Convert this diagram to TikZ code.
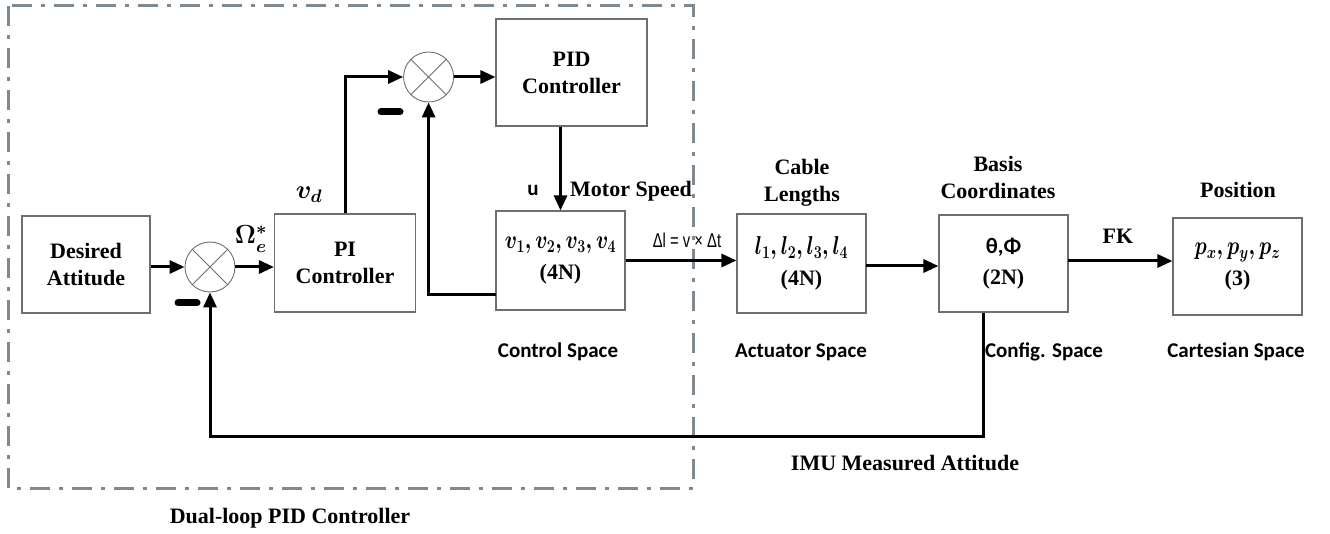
\documentclass[tikz,border=0pt]{standalone}
\usepackage{graphicx}
\usepackage{fontspec}
\setmainfont{Liberation Serif}
\newfontfamily\carl{Carlito}
\newfontfamily\libsans{Liberation Sans}
\usetikzlibrary{arrows.meta}
\definecolor{framegray}{RGB}{125,138,148}
\definecolor{boxgray}{RGB}{110,110,110}
\newcommand{\mybigmath}[1]{\scalebox{1.05}{\boldmath$#1$}}
\newcommand{\myboxmath}[1]{\scalebox{0.82}[1.04]{\boldmath$#1$}}
\begin{document}
\begin{tikzpicture}[x=1pt,y=-1pt,
  box/.style={draw=boxgray,line width=1.1pt,inner sep=0pt,align=center,
    font=\bfseries\fontsize{22}{27}\selectfont},
  mbox/.style={draw=boxgray,line width=1.1pt,inner sep=0pt,align=center,
    font=\bfseries\fontsize{22}{31}\selectfont},
  sumj/.style={circle,draw=boxgray,line width=0.9pt,minimum size=50pt,inner sep=0pt},
  crossl/.style={draw=boxgray,line width=0.9pt},
  arr/.style={line width=3pt,-{Triangle[length=15pt,width=13pt]}},
  lbl/.style={font=\bfseries\fontsize{22}{27}\selectfont,align=center,inner sep=0pt},
  sanslbl/.style={font=\carl\bfseries\fontsize{21}{25}\selectfont,inner sep=0pt},
  mathlbl/.style={font=\fontsize{24}{28}\selectfont,inner sep=0pt},
  minusbar/.style={line width=7pt,line cap=round},
  frameline/.style={draw=framegray,line width=3pt,dash pattern=on 20pt off 9pt on 4pt off 9pt}
]
\useasboundingbox (0,0) rectangle (1330,534);

% dashed frame
\draw[frameline] (8,6) rectangle (693,488);

% boxes
\node[box,minimum width=128pt,minimum height=97pt] (des) at (86,264.5) {Desired\\Attitude};
\node[box,minimum width=141pt,minimum height=98pt] (pi) at (345,263) {PI\\Controller};
\node[box,minimum width=151pt,minimum height=107pt] (pid) at (571.5,72.5) {PID\\Controller};
\node[mbox,minimum width=129pt,minimum height=99pt] (mot) at (560.5,260.5)
  {\fontsize{24}{31}\selectfont\myboxmath{v_1,v_2,v_3,v_4}\\(4N)};
\node[mbox,minimum width=129pt,minimum height=99pt] (act) at (801.5,263.5)
  {\fontsize{24}{29}\selectfont\myboxmath{l_1,l_2,l_3,l_4}\\(4N)};
\node[mbox,minimum width=129pt,minimum height=97pt] (bas) at (1003.5,263.5)
  {{\carl\bfseries θ,Φ}\\(2N)};
\node[mbox,minimum width=129pt,minimum height=97pt] (pos) at (1237.5,266.5)
  {\fontsize{24}{31}\selectfont\myboxmath{p_x,p_y,p_z}\\(3)};

% summing junctions
\node[sumj] (s1) at (210,267) {};
\node[sumj] (s2) at (428.6,77) {};
\draw[crossl] (s1.north west) -- (s1.south east) (s1.north east) -- (s1.south west);
\draw[crossl] (s2.north west) -- (s2.south east) (s2.north east) -- (s2.south west);

% minus signs
\coordinate (m1a) at (178,303); \coordinate (m1b) at (197,303);
\coordinate (m2a) at (381,112); \coordinate (m2b) at (400,112);
\draw[minusbar] (m1a) -- (m1b);
\draw[minusbar] (m2a) -- (m2b);

% connectors
\draw[arr] (s1.west -| des.east) -- (s1.west);
\draw[arr] (s1.east) -- (s1.east -| pi.west);
\draw[arr] (pi.north) |- (s2.west);
\draw[arr] (s2.east) -- (s2.east -| pid.west);
\draw[arr] (pid.south -| mot.north) -- (mot.north);
\coordinate (ifb) at (496,295);
\draw[arr] (ifb) -| (s2.south);
\draw[arr] (mot.east) -- (mot.east -| act.west);
\coordinate (aout) at (866,266);
\draw[arr] (aout) -- (aout -| bas.west);
\coordinate (bout) at (1068,261);
\draw[arr] (bout) -- (bout -| pos.west);
\coordinate (fb) at (983,436);
\draw[arr] (bas.south -| fb) -- (fb) -| (s1.south);

% labels
\node[mathlbl] (vd) at (309,195) {\mybigmath{v_d}};
\node[mathlbl] (om) at (251,239) {\mybigmath{\Omega_e^*}};
\node[sanslbl] (ul) at (533,190) {u};
\node[lbl,anchor=west] (ms) at (570,191) {Motor Speed};
\node[inner sep=0pt] (dl) at (687,240)
  {\scalebox{0.74}[1]{\libsans\fontsize{20}{24}\selectfont Δl = v × Δt}};
\node[lbl] (cl) at (802,183) {Cable\\Lengths};
\node[lbl] (bc) at (998,177) {Basis\\Coordinates};
\node[lbl] (pl) at (1238,190) {Position};
\node[lbl] (fk) at (1118,236) {FK};
\node[sanslbl] (cs) at (558,352) {Control Space};
\node[sanslbl] (as) at (801,352) {Actuator Space};
\node[sanslbl] (gs) at (1044,352) {Config. Space};
\node[sanslbl] (ts) at (1236,352) {Cartesian Space};
\node[lbl] (imu) at (905,463) {IMU Measured Attitude};
\node[lbl] (dual) at (290,518) {Dual-loop PID Controller};
\end{tikzpicture}
\end{document}
